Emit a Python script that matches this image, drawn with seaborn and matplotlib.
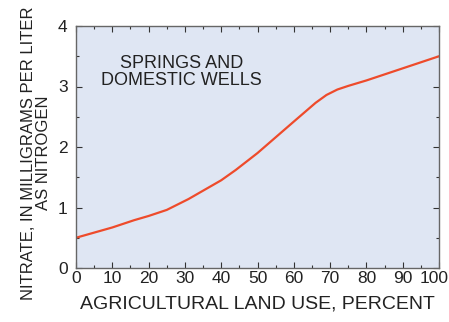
import matplotlib
matplotlib.use("Agg")
import matplotlib.pyplot as plt
import matplotlib.transforms as mtransforms
import seaborn as sns
import pandas as pd
from matplotlib.ticker import MultipleLocator

land_use = [0, 10, 16, 20, 25, 31, 40, 44, 50, 60, 66, 69, 72, 75, 80, 90, 100]
nitrate = [0.50, 0.67, 0.79, 0.86, 0.96, 1.14, 1.45, 1.62, 1.90, 2.42, 2.73, 2.86, 2.95, 3.01, 3.10, 3.30, 3.50]
x_ticks = [0, 10, 20, 30, 40, 50, 60, 70, 80, 90, 100]
y_ticks = [0, 1, 2, 3, 4]

sns.set_theme(style="ticks")
plt.rcParams['font.family'] = ['Liberation Sans', 'DejaVu Sans']

df = pd.DataFrame({"x": land_use, "y": nitrate})
fig = plt.figure(figsize=(4.49, 3.22), dpi=100)
ax = fig.add_axes([76/449, 1 - 268/322, (439-76)/449, (268-26)/322])
ax.set_facecolor("#dfe6f3")
sns.lineplot(data=df, x="x", y="y", ax=ax, color="#ee4b2b", linewidth=1.6)
ax.set_xlim(0, 100)
ax.set_ylim(0, 4)
ax.set_xticks(x_ticks)
ax.set_yticks(y_ticks)
ax.xaxis.set_minor_locator(MultipleLocator(5))
ax.yaxis.set_minor_locator(MultipleLocator(0.5))
ax.tick_params(which="both", direction="in", top=True, right=True, color="#333333",
               labelsize=12.5, labelcolor="#222222")
ax.tick_params(axis="x", pad=2)
ax.tick_params(axis="y", pad=6)
ax.tick_params(which="major", length=4, width=0.8)
ax.tick_params(which="minor", length=2.5, width=0.8)
for s in ax.spines.values():
    s.set_color("#666666")
    s.set_linewidth(1.0)
# nudge the last x tick label left so it stays inside the figure
last = ax.get_xticklabels()[-1]
last.set_transform(last.get_transform() + mtransforms.ScaledTranslation(-5/100, 0, fig.dpi_scale_trans))
ax.set_xlabel("AGRICULTURAL LAND USE, PERCENT", fontsize=14, color="#222222", labelpad=7)
ax.set_ylabel("NITRATE, IN MILLIGRAMS PER LITER\nAS NITROGEN", fontsize=12, color="#222222",
              linespacing=0.95)
ax.yaxis.set_label_coords(-0.07, 0.475)
ax.text(29, 3.24, "SPRINGS AND\nDOMESTIC WELLS", ha="center", va="center", fontsize=13,
        color="#222222", linespacing=1.0)
fig.savefig("out.png", dpi=100)
